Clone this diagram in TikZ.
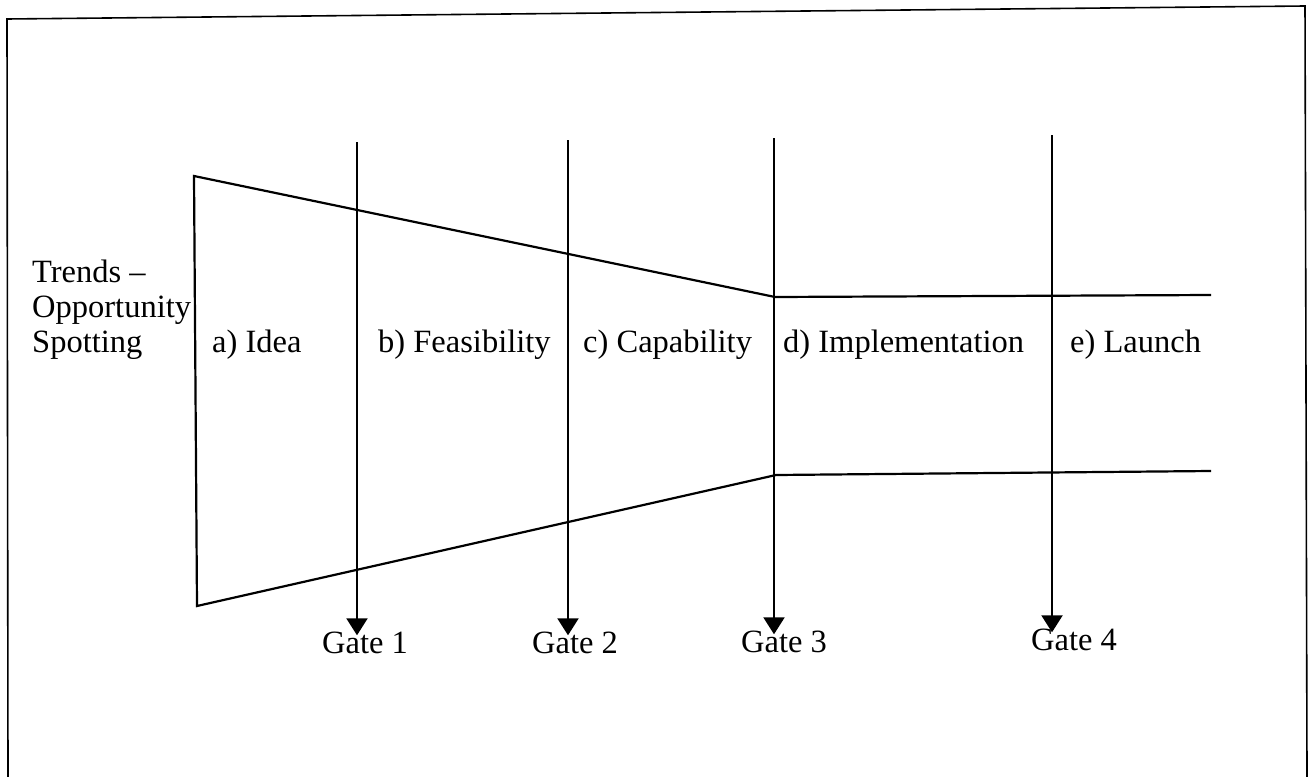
\documentclass[tikz,border=0pt]{standalone}
\usepackage{fontspec}
\setmainfont{Liberation Serif}
\usetikzlibrary{arrows.meta}

\begin{document}
\begin{tikzpicture}[x=1pt,y=-1pt,line join=miter,
  frame line/.style={line width=1.6pt},
  funnel line/.style={line width=2.2pt},
  gate arrow/.style={line width=2.2pt,shorten >=-4pt,-{Triangle[length=17pt,width=21pt]}},
  stage node/.style={inner sep=0pt,anchor=base west,font=\fontsize{32.5}{35}\selectfont},
  gate node/.style={inner sep=0pt,anchor=base,font=\fontsize{32.5}{35}\selectfont}]
  \useasboundingbox (0,0) rectangle (1316,776);

  % outer frame (open at the bottom)
  \draw[frame line] (8,778) -- (7,19) -- (1305,6) -- (1307,778);

  % funnel
  \coordinate (tl) at (194,176);
  \coordinate (bl) at (197,606);
  \coordinate (tj) at (775,297);
  \coordinate (bj) at (776,475);
  \coordinate (tr) at (1211,295);
  \coordinate (br) at (1211,471);
  \draw[funnel line] (tr) -- (tj) -- (tl) -- (bl) -- (bj) -- (br);

  % labels
  \node[stage node,align=left] (trends) at (32,352) {Trends --\\Opportunity\\Spotting};
  \node[stage node] (idea) at (212,352) {a) Idea};
  \node[stage node] (feas) at (378,352) {b) Feasibility};
  \node[stage node] (capa) at (583,352) {c) Capability};
  \node[stage node] (impl) at (783,352) {d) Implementation};
  \node[stage node] (launch) at (1070,352) {e) Launch};

  % gates
  \node[gate node] (g1) at (365,653) {Gate 1};
  \node[gate node] (g2) at (575,653) {Gate 2};
  \node[gate node] (g3) at (784,652) {Gate 3};
  \node[gate node] (g4) at (1074,650) {Gate 4};

  \coordinate (t1) at (357,142);
  \coordinate (t2) at (568,140);
  \coordinate (t3) at (774,138);
  \coordinate (t4) at (1052,135);

  \draw[gate arrow] (t1) -- (t1 |- g1.north);
  \draw[gate arrow] (t2) -- (t2 |- g2.north);
  \draw[gate arrow] (t3) -- (t3 |- g3.north);
  \draw[gate arrow] (t4) -- (t4 |- g4.north);
\end{tikzpicture}
\end{document}
